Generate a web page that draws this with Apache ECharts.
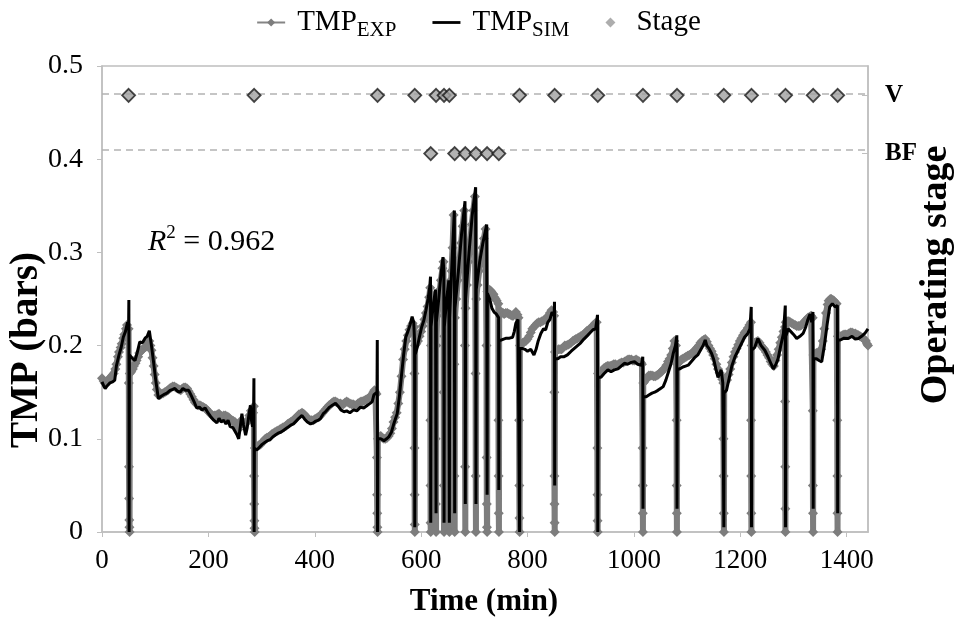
<!DOCTYPE html>
<html><head><meta charset="utf-8">
<script src="https://cdn.jsdelivr.net/npm/echarts@6/dist/echarts.min.js"></script>
<style>html,body{margin:0;padding:0;background:#fff}#c{width:957px;height:621px}</style>
</head><body><div id="c"></div>
<script>
// ---------- data (time in min, TMP in bars) ----------
const xTicks = [0, 200, 400, 600, 800, 1000, 1200, 1400];
const yTicks = [0, 0.1, 0.2, 0.3, 0.4, 0.5];
const stageNames = ['BF', 'V'];
const stageLevels = [0.406, 0.4685];
const stageV = [50, 286, 518, 588, 628, 643, 653, 785, 851, 932, 1017, 1081, 1169, 1221, 1285, 1337, 1383];
const stageBF = [618, 663, 683, 703, 724, 746];
const r2Value = '0.962';

const tmpSim = [
[0,0.161],[3,0.157],[6,0.154],[10,0.157],[15,0.16],[20,0.161],[24,0.163],[27,0.178],[32,0.19],[36,0.198],[40,0.209],[44,0.215],[48,0.225],[50,0.22],
[50.5,0.249],[51,0.0],[51.5,0.19],[54,0.188],[58,0.186],[62,0.184],[66,0.192],[71,0.204],[76,0.203],[81,0.208],[85,0.21],[89,0.216],[93,0.2],[97,0.182],[101,0.163],
[106,0.143],[112,0.146],[118,0.148],[122,0.149],[128,0.152],[133,0.153],[137,0.154],[142,0.151],[147,0.15],[152,0.154],[157,0.152],[163,0.152],[168,0.146],[173,0.14],
[178,0.133],[183,0.134],[188,0.131],[194,0.133],[199,0.128],[204,0.124],[210,0.12],[216,0.117],[220,0.122],[224,0.118],[229,0.12],[233,0.116],[237,0.12],[241,0.113],
[246,0.112],[250,0.108],[254,0.104],[257,0.1],[260,0.113],[263,0.127],[266,0.115],[270,0.104],[273,0.112],[276,0.125],[279,0.136],[281,0.12],[283,0.113],[285,0.13],
[285.6,0.165],[286,0.0],[286.5,0.09],[291,0.088],[296,0.091],[301,0.094],[306,0.096],[311,0.098],[316,0.099],[321,0.102],[326,0.104],[331,0.106],[336,0.107],
[341,0.109],[346,0.111],[351,0.113],[356,0.115],[360,0.116],[365,0.119],[370,0.122],[376,0.125],[381,0.121],[386,0.118],[392,0.116],[397,0.117],[402,0.119],
[407,0.12],[411,0.122],[416,0.127],[420,0.129],[423,0.131],[428,0.134],[433,0.136],[439,0.138],[444,0.135],[449,0.131],[455,0.129],[460,0.13],[466,0.128],
[473,0.131],[479,0.13],[486,0.134],[492,0.133],[499,0.136],[504,0.138],[508,0.14],[511,0.147],[514,0.145],[517,0.15],
[517.5,0.206],[518,0.0],[518.5,0.1],[524,0.1],[530,0.098],[535,0.1],[539,0.102],[544,0.107],[548,0.115],[552,0.122],[555,0.127],[559,0.145],[563,0.168],
[567,0.19],[571,0.209],[575,0.215],[579,0.222],[583,0.231],[586,0.225],[587.6,0.205],[588,0.005],[588.5,0.19],[593,0.199],[597,0.21],[601,0.22],[605,0.227],
[609,0.238],[613,0.25],[616,0.262],[617.6,0.274],[618,0.01],[618.5,0.22],[623,0.245],[627,0.26],[627.6,0.262],[628,0.02],[628.5,0.225],[633,0.25],[637,0.275],
[641,0.295],[642.6,0.28],[643,0.01],[643.5,0.22],[648,0.25],[652,0.27],[652.6,0.27],[653,0.01],[653.5,0.23],[658,0.29],[662.4,0.345],[663,0.02],[663.5,0.24],
[670,0.28],[676,0.32],[682.4,0.355],[683,0.03],[683.5,0.25],[690,0.3],[696,0.34],[702.4,0.37],[703,0.03],[703.5,0.26],[710,0.29],[716,0.31],[723.2,0.33],
[724,0.04],[724.5,0.256],[729,0.25],[733,0.24],[737,0.236],[741,0.234],[745.6,0.23],[746,0.045],[746.5,0.205],[750,0.207],[755,0.207],[760,0.208],[766,0.208],
[772,0.209],[775,0.215],[778,0.224],[782,0.228],[784.5,0.229],[785,0.0],[785.5,0.197],[790,0.197],[795,0.196],[800,0.194],[806,0.196],[812,0.19],[816,0.196],
[820,0.205],[825,0.213],[830,0.218],[834,0.217],[838,0.225],[842,0.228],[846,0.236],[850,0.232],[850.6,0.247],[851,0.05],[851.5,0.186],[857,0.186],[862,0.188],
[868,0.188],[875,0.19],[882,0.194],[888,0.197],[894,0.2],[900,0.203],[906,0.207],[913,0.211],[918,0.214],[923,0.217],[928,0.218],[931.5,0.233],[932,0.0],
[932.5,0.166],[938,0.166],[944,0.17],[951,0.174],[957,0.172],[963,0.174],[970,0.175],[976,0.178],[982,0.181],[988,0.18],[995,0.182],[1001,0.1826],[1007,0.18],
[1014,0.179],[1016.6,0.188],[1017,0.025],[1017.5,0.145],[1023,0.145],[1028,0.147],[1034,0.149],[1039,0.15],[1045,0.152],[1050,0.154],[1055,0.156],[1060,0.163],
[1065,0.172],[1070,0.181],[1074,0.192],[1078,0.2],[1080.6,0.211],[1081,0.025],[1081.5,0.175],[1086,0.175],[1092,0.177],[1097,0.178],[1102,0.179],[1108,0.183],
[1114,0.187],[1120,0.19],[1125,0.195],[1130,0.2],[1134,0.206],[1137,0.2],[1141,0.197],[1146,0.1915],[1150,0.185],[1154,0.175],[1158,0.166],[1161,0.17],
[1164,0.174],[1167,0.16],[1169,0.005],[1169.5,0.149],[1174,0.152],[1179,0.165],[1184,0.178],[1190,0.188],[1196,0.195],[1202,0.202],[1208,0.209],[1214,0.213],
[1218,0.218],[1220.5,0.2415],[1221,0.005],[1221.5,0.195],[1227,0.198],[1233,0.2076],[1239,0.2],[1246,0.195],[1252,0.188],[1258,0.18],[1262,0.175],[1267,0.18],
[1271,0.186],[1276,0.2],[1281,0.213],[1284.5,0.243],[1285,0.005],[1285.5,0.21],[1290,0.218],[1295,0.215],[1300,0.212],[1306,0.2076],[1312,0.21],[1318,0.213],
[1323,0.22],[1327,0.228],[1331,0.234],[1334,0.225],[1336.5,0.236],[1337,0.025],[1337.5,0.186],[1343,0.186],[1348,0.184],[1353,0.1826],[1358,0.2],[1363,0.222],
[1368,0.2415],[1373,0.245],[1378,0.2415],[1382.5,0.243],[1383,0.02],[1383.5,0.206],[1388,0.206],[1395,0.208],[1403,0.2076],[1410,0.21],[1416,0.207],
[1422,0.2076],[1428,0.21],[1434,0.213],[1440,0.218]
];

const tmpExp = [
[0,0.165],[3,0.162],[5,0.16],[8,0.161],[10,0.162],[13,0.164],[16,0.166],[19,0.168],[22,0.17],[25,0.175],[27,0.18],[30,0.188],[32,0.193],[35,0.198],[37,0.202],
[40,0.208],[42,0.212],[45,0.218],[47,0.222],[50,0.218],
[50.4,0.16],[50.7,0.07],[51,0.036],[51.3,0.013],[51.6,0.005],[51.9,0],[52.2,0.17],[55,0.172],[58,0.175],[60,0.178],[63,0.181],[65,0.184],[68,0.188],[70,0.192],
[73,0.194],[75,0.195],[78,0.197],[80,0.198],[83,0.199],[85,0.2],[87,0.203],[89,0.205],[91,0.2],[93,0.195],[95,0.187],[97,0.178],[99,0.169],[101,0.16],[103,0.153],
[106,0.147],[109,0.147],[112,0.148],[115,0.149],[118,0.15],[121,0.151],[124,0.152],[127,0.154],[130,0.155],[133,0.156],[136,0.156],[139,0.155],[142,0.154],
[145,0.153],[148,0.152],[151,0.154],[154,0.155],[157,0.155],[160,0.154],[163,0.151],[166,0.148],[169,0.145],[172,0.142],[175,0.139],[178,0.137],[181,0.136],
[184,0.136],[187,0.135],[190,0.134],[193,0.133],[196,0.132],[199,0.13],[202,0.128],[205,0.126],[208,0.125],[211,0.125],[214,0.125],[217,0.126],[220,0.127],
[223,0.125],[226,0.124],[229,0.125],[232,0.125],[235,0.124],[238,0.123],[241,0.121],[244,0.12],[247,0.119],[250,0.118],[253,0.114],[256,0.11],[259,0.115],
[262,0.12],[265,0.117],[268,0.115],[271,0.117],[274,0.12],[277,0.125],[280,0.13],[282,0.129],[284,0.128],[285.5,0.135],
[285.8,0.06],[286.1,0.03],[286.4,0.012],[286.7,0.004],[287,0],[287.5,0.09],[290,0.091],[292,0.092],[295,0.093],[298,0.094],[301,0.096],[304,0.098],[307,0.1],
[310,0.101],[313,0.102],[316,0.103],[319,0.105],[322,0.106],[325,0.107],[328,0.108],[331,0.109],[334,0.11],[337,0.111],[340,0.112],[343,0.113],[346,0.114],
[349,0.116],[352,0.117],[355,0.118],[358,0.119],[361,0.121],[364,0.122],[367,0.124],[370,0.126],[373,0.127],[376,0.128],[379,0.127],[382,0.125],[385,0.123],
[388,0.121],[391,0.12],[394,0.12],[397,0.12],[400,0.121],[403,0.122],[406,0.123],[409,0.124],[412,0.126],[415,0.128],[418,0.13],[421,0.132],[424,0.134],
[427,0.136],[430,0.137],[433,0.139],[436,0.14],[439,0.14],[442,0.139],[445,0.138],[448,0.138],[451,0.137],[454,0.137],[457,0.139],[460,0.14],[463,0.139],
[466,0.138],[469,0.137],[472,0.137],[475,0.136],[478,0.136],[481,0.138],[484,0.139],[487,0.14],[490,0.14],[493,0.141],[496,0.142],[499,0.143],[502,0.144],
[505,0.146],[508,0.147],[510,0.15],[512,0.152],[514,0.15],[516,0.148],
[516.8,0.08],[517.1,0.04],[517.4,0.02],[517.7,0.005],[518,0],[518.6,0.1],[521,0.102],[524,0.103],[527,0.101],[530,0.1],[533,0.1],[536,0.101],[539,0.103],
[542,0.106],[545,0.111],[548,0.118],[551,0.123],[554,0.128],[557,0.138],[560,0.15],[563,0.167],[566,0.185],[569,0.196],[572,0.205],[575,0.211],[578,0.217],
[581,0.221],[584,0.224],[587,0.22],
[587.3,0.17],[587.5,0.09],[587.7,0.04],[587.9,0.008],[588.1,0],[588.6,0.2],[591,0.202],[594,0.205],[597,0.21],[600,0.215],[603,0.221],[606,0.228],[609,0.235],
[612,0.242],[615,0.252],[617,0.262],
[617.3,0.12],[617.5,0.05],[617.7,0.01],[618,0],[618.5,0.2],[620,0.225],[622,0.24],[625,0.25],[627,0.255],
[627.3,0.1],[627.6,0.03],[628,0],[628.5,0.2],[630,0.232],[632,0.245],[635,0.26],[637,0.27],[640,0.283],[642,0.29],
[642.3,0.15],[642.6,0.05],[643,0],[643.5,0.21],[645,0.232],[647,0.245],[650,0.258],[652,0.268],
[652.3,0.12],[652.6,0.04],[653,0],[653.5,0.22],[655,0.25],[657,0.28],[659,0.305],[661,0.34],
[662.3,0.18],[662.6,0.06],[663,0],[663.5,0.23],[666,0.25],[669,0.27],[672,0.29],[675,0.31],[678,0.328],[681,0.345],
[682.3,0.2],[682.6,0.07],[683,0],[683.5,0.24],[686,0.265],[689,0.29],[692,0.31],[695,0.33],[698,0.345],[701,0.36],
[702.3,0.17],[702.6,0.06],[703,0],[703.5,0.25],[706,0.265],[709,0.28],[712,0.292],[715,0.305],[718,0.315],[721,0.325],
[722.8,0.2],[723.1,0.08],[723.4,0.03],[723.7,0.005],[724,0],[724.5,0.258],[726,0.26],[728,0.26],[730,0.259],[732,0.258],[734,0.256],[736,0.255],[738,0.252],
[740,0.25],[742,0.248],[745,0.245],
[745.3,0.12],[745.6,0.06],[745.9,0.02],[746.2,0],[746.7,0.235],[749,0.236],[751,0.236],[754,0.235],[756,0.234],[759,0.235],[762,0.235],[765,0.234],[768,0.233],
[771,0.232],[773,0.232],[776,0.234],[778,0.236],[781,0.233],[783,0.23],
[784.2,0.12],[784.5,0.05],[784.8,0.015],[785.1,0],[785.6,0.2],[788,0.201],[791,0.203],[794,0.204],[797,0.205],[800,0.207],[803,0.21],[806,0.214],[809,0.218],
[812,0.22],[815,0.222],[818,0.224],[821,0.225],[824,0.225],[827,0.226],[830,0.227],[833,0.228],[836,0.23],[839,0.232],[842,0.235],[845,0.238],[848,0.236],[850,0.232],
[850.3,0.15],[850.5,0.06],[850.7,0.03],[850.9,0.01],[851.1,0],[851.6,0.193],[855,0.195],[858,0.196],[861,0.196],[864,0.196],[867,0.198],[870,0.2],[873,0.2],
[876,0.201],[879,0.202],[882,0.203],[885,0.205],[888,0.206],[891,0.207],[894,0.208],[897,0.209],[900,0.21],[903,0.211],[906,0.212],[909,0.214],[912,0.216],
[915,0.217],[918,0.218],[921,0.22],[924,0.222],[927,0.224],[930,0.225],
[931.2,0.09],[931.4,0.04],[931.6,0.012],[931.8,0],[932.4,0.17],[935,0.171],[938,0.172],[941,0.174],[944,0.176],[947,0.177],[950,0.178],[953,0.178],[956,0.178],
[959,0.179],[962,0.18],[965,0.18],[968,0.179],[971,0.18],[974,0.181],[977,0.182],[980,0.182],[983,0.183],[986,0.184],[989,0.185],[992,0.185],[995,0.185],
[998,0.184],[1001,0.184],[1004,0.185],[1007,0.184],[1010,0.183],[1013,0.182],[1015,0.18],
[1016.3,0.09],[1016.5,0.05],[1016.7,0.02],[1016.9,0],[1017.5,0.16],[1019,0.161],[1022,0.163],[1025,0.166],[1028,0.168],[1031,0.168],[1034,0.168],[1037,0.167],
[1040,0.167],[1043,0.168],[1046,0.169],[1049,0.171],[1052,0.172],[1055,0.174],[1058,0.176],[1061,0.179],[1064,0.183],[1067,0.186],[1070,0.19],[1073,0.197],
[1076,0.205],[1079,0.2],
[1080.2,0.12],[1080.4,0.05],[1080.6,0.02],[1080.8,0],[1081.4,0.18],[1083,0.181],[1086,0.183],[1089,0.185],[1092,0.186],[1095,0.187],[1098,0.188],[1101,0.189],
[1104,0.19],[1107,0.191],[1110,0.192],[1113,0.194],[1116,0.196],[1119,0.198],[1122,0.2],[1125,0.203],[1128,0.205],[1131,0.206],[1134,0.207],[1137,0.204],
[1140,0.2],[1143,0.197],[1146,0.194],[1149,0.19],[1152,0.186],[1155,0.18],[1158,0.175],[1161,0.171],[1164,0.168],[1166,0.164],[1168,0.16],
[1168.3,0.1],[1168.6,0.06],[1168.9,0.02],[1169.2,0],[1169.7,0.16],[1172,0.161],[1175,0.163],[1178,0.169],[1181,0.175],[1184,0.182],[1187,0.188],[1190,0.193],
[1193,0.197],[1196,0.201],[1199,0.205],[1202,0.208],[1205,0.211],[1208,0.214],[1211,0.216],[1214,0.219],[1217,0.222],[1220,0.225],
[1220.2,0.12],[1220.4,0.06],[1220.6,0.02],[1220.8,0],[1221.4,0.2],[1224,0.202],[1227,0.203],[1230,0.204],[1233,0.205],[1236,0.203],[1239,0.2],[1242,0.198],
[1245,0.196],[1248,0.193],[1251,0.19],[1254,0.187],[1257,0.183],[1260,0.18],[1263,0.178],[1266,0.184],[1269,0.19],[1272,0.196],[1275,0.203],[1278,0.209],
[1281,0.215],[1284,0.22],
[1284.2,0.14],[1284.4,0.07],[1284.6,0.025],[1284.8,0],[1285.4,0.225],[1288,0.226],[1291,0.226],[1294,0.225],[1297,0.224],[1300,0.223],[1303,0.222],[1306,0.221],
[1309,0.221],[1312,0.221],[1315,0.222],[1318,0.224],[1321,0.226],[1324,0.228],[1327,0.23],[1330,0.231],[1333,0.232],[1336,0.23],
[1336.2,0.13],[1336.4,0.05],[1336.6,0.02],[1336.8,0],[1337.4,0.19],[1340,0.191],[1343,0.192],[1346,0.191],[1349,0.19],[1352,0.196],[1355,0.205],[1358,0.218],
[1361,0.235],[1364,0.244],[1366,0.248],[1369,0.25],[1371,0.25],[1374,0.249],[1376,0.248],[1379,0.246],[1381,0.245],
[1382.2,0.12],[1382.4,0.06],[1382.6,0.02],[1382.8,0],[1383.4,0.21],[1386,0.21],[1389,0.21],[1392,0.211],[1395,0.212],[1398,0.212],[1401,0.212],[1404,0.213],
[1407,0.214],[1410,0.214],[1413,0.213],[1416,0.213],[1419,0.212],[1422,0.211],[1425,0.21],[1428,0.209],[1431,0.208],[1434,0.206],[1436,0.205],[1438,0.202],[1440,0.2]
];

// ---------- chart ----------
const serif = "'Liberation Serif','Times New Roman',serif";
const axisGray = '#bfbfbf';
const legendNames = {TMP_EXP: '{a|TMP}{b|EXP}', TMP_SIM: '{a|TMP}{b|SIM}', Stage: '{a|Stage}'};

const chart = echarts.init(document.getElementById('c'), null, {renderer: 'canvas'});
chart.setOption({
  animation: false,
  backgroundColor: '#ffffff',
  grid: {left: 102, right: 89, top: 66, bottom: 89, show: true, borderColor: axisGray, borderWidth: 1.5, backgroundColor: 'transparent'},
  legend: {
    top: 3, left: 'center', itemWidth: 28, itemHeight: 10, itemGap: 36, symbolKeepAspect: true,
    formatter: n => legendNames[n],
    textStyle: {
      fontFamily: serif, color: '#000',
      rich: {
        a: {fontFamily: serif, fontSize: 29, lineHeight: 36, verticalAlign: 'middle', color: '#000', padding: [0, 0, 0, 7]},
        b: {fontFamily: serif, fontSize: 21, lineHeight: 36, verticalAlign: 'bottom', color: '#000'}
      }
    },
    data: [
      {name: 'TMP_EXP', lineStyle: {width: 2, color: '#858585'}},
      {name: 'TMP_SIM', icon: 'path://M0,0L30,0L30,3L0,3Z', itemStyle: {color: '#000'}},
      {name: 'Stage', icon: 'path://M5,0L10,5L5,10L0,5Z', itemStyle: {color: '#999999', borderWidth: 0}}
    ]
  },
  xAxis: {
    type: 'value', min: 0, max: 1440, interval: 200,
    axisLine: {show: true, lineStyle: {color: axisGray, width: 1.5}},
    axisTick: {show: true, length: 5, lineStyle: {color: axisGray}},
    axisLabel: {fontFamily: serif, fontSize: 27, color: '#000', margin: 15, showMaxLabel: false,
      formatter: v => (xTicks.indexOf(v) >= 0 ? String(v) : '')},
    splitLine: {show: false}
  },
  yAxis: [
    {
      type: 'value', min: 0, max: 0.5, interval: 0.1,
      axisLine: {show: true, lineStyle: {color: axisGray, width: 1.5}},
      axisTick: {show: true, length: 5, lineStyle: {color: axisGray}},
      axisLabel: {fontFamily: serif, fontSize: 28, color: '#000', margin: 19,
        formatter: v => { const t = yTicks.find(k => Math.abs(k - v) < 1e-9); return t === undefined ? '' : String(t); }},
      splitLine: {show: false}
    },
    {
      type: 'value', min: 0, max: 0.5, position: 'right',
      axisLine: {show: true, lineStyle: {color: axisGray, width: 1.5}},
      axisTick: {show: true, inside: true, length: 6, lineStyle: {color: axisGray}, customValues: stageLevels},
      axisLabel: {fontFamily: serif, fontSize: 25, fontWeight: 'bold', color: '#000', margin: 17, customValues: stageLevels,
        formatter: v => { const i = stageLevels.findIndex(k => Math.abs(k - v) < 1e-6); return i < 0 ? '' : stageNames[i]; }},
      splitLine: {show: false}
    }
  ],
  series: [
    {
      name: 'TMP_EXP', type: 'line', data: tmpExp, z: 2,
      symbol: 'diamond', symbolSize: 10, showSymbol: true, showAllSymbol: true,
      itemStyle: {color: '#7d7d7d'},
      lineStyle: {color: '#7d7d7d', width: 6},
      emphasis: {disabled: true}
    },
    {
      name: 'TMP_SIM', type: 'line', data: tmpSim, z: 3,
      symbol: 'none', showSymbol: false,
      itemStyle: {color: '#000'},
      lineStyle: {color: '#000', width: 3},
      emphasis: {disabled: true}
    },
    {
      name: 'Stage', type: 'scatter', yAxisIndex: 1, z: 5,
      data: stageV.map(t => [t, stageLevels[1]]).concat(stageBF.map(t => [t, stageLevels[0]])),
      symbol: 'diamond', symbolSize: 13,
      itemStyle: {color: '#a0a0a0', borderColor: '#1a1a1a', borderWidth: 1.8},
      emphasis: {disabled: true},
      markLine: {
        silent: true, symbol: 'none', label: {show: false}, z: 1,
        lineStyle: {type: [7, 5], color: '#b3b3b3', width: 1.5},
        data: stageLevels.map(v => ({yAxis: v}))
      }
    }
  ],
  graphic: [
    {type: 'text', x: 148, y: 242, style: {
      text: '{i|R}{s|2}{n| = ' + r2Value + '}',
      verticalAlign: 'middle', align: 'left',
      rich: {
        i: {fontFamily: serif, fontStyle: 'italic', fontSize: 30, lineHeight: 36, verticalAlign: 'middle', fill: '#000'},
        s: {fontFamily: serif, fontSize: 19, lineHeight: 36, verticalAlign: 'top', fill: '#000'},
        n: {fontFamily: serif, fontSize: 30, lineHeight: 36, verticalAlign: 'middle', fill: '#000'}
      }}},
    {type: 'text', x: 27, y: 350, rotation: Math.PI / 2, style: {
      text: 'TMP (bars)', fontFamily: serif, fontWeight: 'bold', fontSize: 39, fill: '#000', align: 'center', verticalAlign: 'middle'}},
    {type: 'text', x: 936, y: 275, rotation: Math.PI / 2, style: {
      text: 'Operating stage', fontFamily: serif, fontWeight: 'bold', fontSize: 38, fill: '#000', align: 'center', verticalAlign: 'middle'}},
    {type: 'text', x: 484, y: 602, style: {
      text: 'Time (min)', fontFamily: serif, fontWeight: 'bold', fontSize: 31, fill: '#000', align: 'center', verticalAlign: 'middle'}}
  ]
});
</script>
</body></html>
